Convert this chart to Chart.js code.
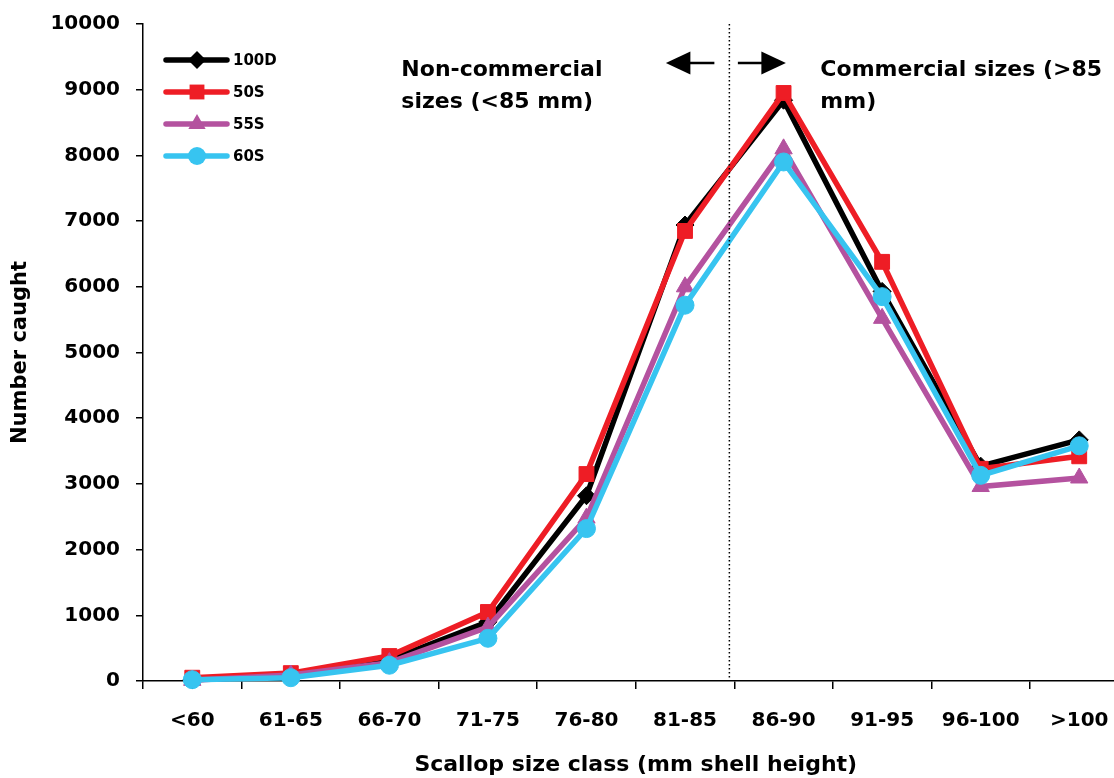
<!DOCTYPE html>
<html>
<head>
<meta charset="utf-8">
<script src="https://cdn.jsdelivr.net/npm/chart.js"></script>
<style>
  html, body { margin: 0; padding: 0; background: #fff; overflow: hidden; }
  #wrap { width: 1114px; height: 778px; overflow: hidden; position: relative; }
  canvas { position: absolute; left: 0; top: 0; }
</style>
</head>
<body>
<div id="wrap"><canvas id="chart" width="1140" height="778"></canvas></div>
<script>
// size classes and catches
const sizeClasses = ['<60', '61-65', '66-70', '71-75', '76-80', '81-85', '86-90', '91-95', '96-100', '>100'];
const catch100D = [20, 80, 320, 900, 2820, 6940, 8840, 5930, 3270, 3670];
const catch50S  = [50, 120, 380, 1050, 3150, 6850, 8950, 6380, 3230, 3420];
const catch55S  = [10, 90, 280, 820, 2480, 6000, 8100, 5520, 2960, 3090];
const catch60S  = [20, 50, 240, 650, 2320, 5720, 7900, 5850, 3130, 3580];
const yTicks = [0, 1000, 2000, 3000, 4000, 5000, 6000, 7000, 8000, 9000, 10000];

const FONT = "'DejaVu Sans', sans-serif";
Chart.defaults.font.family = FONT;
Chart.defaults.font.weight = 'bold';
Chart.defaults.color = '#000';

function series(label, data, color, style, radius, order) {
    return {
        label: label,
        data: data,
        borderColor: color,
        backgroundColor: color,
        borderWidth: 5.5,
        pointStyle: style,
        pointRadius: radius,
        pointBackgroundColor: color,
        pointBorderColor: color,
        pointBorderWidth: 1,
        tension: 0,
        clip: false,
        order: order
    };
}

const datasets = [
    series('100D', catch100D, '#000000', 'rectRot', 9, 3),
    series('50S', catch50S, '#ee1d25', 'rect', 10.5, 2),
    series('55S', catch55S, '#b4529f', 'triangle', 10, 1),
    series('60S', catch60S, '#37c4f0', 'circle', 9, 0)
];

function marker(ctx, style, r, x, y) {
    ctx.beginPath();
    if (style === 'rectRot') {
        ctx.moveTo(x, y - r); ctx.lineTo(x + r, y); ctx.lineTo(x, y + r); ctx.lineTo(x - r, y);
    } else if (style === 'rect') {
        const s = r * Math.SQRT1_2;
        ctx.rect(x - s, y - s, 2 * s, 2 * s);
    } else if (style === 'triangle') {
        ctx.moveTo(x, y - r);
        ctx.lineTo(x + r * 0.866, y + r * 0.5);
        ctx.lineTo(x - r * 0.866, y + r * 0.5);
    } else {
        ctx.arc(x, y, r, 0, Math.PI * 2);
    }
    ctx.closePath();
    ctx.fill();
}

const overlay = {
    id: 'overlay',
    afterDatasetsDraw(chart) {
        const ctx = chart.ctx;
        const a = chart.chartArea;
        const x = chart.scales.x;
        const p5 = x.getPixelForValue(5), p6 = x.getPixelForValue(6);
        const divX = p5 + 0.45 * (p6 - p5);
        ctx.save();

        // dotted divider at 85 mm
        ctx.strokeStyle = '#000';
        ctx.lineWidth = 1.5;
        ctx.setLineDash([1.5, 2.5]);
        ctx.beginPath();
        ctx.moveTo(divX, a.top);
        ctx.lineTo(divX, a.bottom);
        ctx.stroke();
        ctx.setLineDash([]);

        // arrows
        const ay = a.top + 39;
        ctx.fillStyle = '#000';
        ctx.lineWidth = 2.5;
        ctx.beginPath();
        ctx.moveTo(divX - 40, ay); ctx.lineTo(divX - 15, ay);
        ctx.moveTo(divX + 8.5, ay); ctx.lineTo(divX + 33, ay);
        ctx.stroke();
        ctx.beginPath();
        ctx.moveTo(divX - 63.5, ay); ctx.lineTo(divX - 39, ay - 11.5); ctx.lineTo(divX - 39, ay + 11.5);
        ctx.closePath(); ctx.fill();
        ctx.beginPath();
        ctx.moveTo(divX + 56.5, ay); ctx.lineTo(divX + 32, ay - 11.5); ctx.lineTo(divX + 32, ay + 11.5);
        ctx.closePath(); ctx.fill();

        // labels
        ctx.font = 'bold 22px ' + FONT;
        ctx.textAlign = 'left';
        ctx.textBaseline = 'alphabetic';
        ctx.fillText('Non-commercial', divX - 328, a.top + 52);
        ctx.fillText('sizes (<85 mm)', divX - 328, a.top + 84);
        ctx.fillText('Commercial sizes (>85', divX + 91, a.top + 52);
        ctx.fillText('mm)', divX + 91, a.top + 84);

        // legend
        ctx.font = 'bold 15px ' + FONT;
        ctx.textBaseline = 'middle';
        chart.data.datasets.forEach((ds, i) => {
            const ly = a.top + 36 + i * 32;
            ctx.strokeStyle = ds.borderColor;
            ctx.fillStyle = ds.borderColor;
            ctx.lineWidth = 5.5;
            ctx.lineCap = 'round';
            ctx.beginPath();
            ctx.moveTo(a.left + 23, ly);
            ctx.lineTo(a.left + 84, ly);
            ctx.stroke();
            marker(ctx, ds.pointStyle, ds.pointRadius, a.left + 54, ly);
            ctx.fillStyle = '#000';
            ctx.fillText(ds.label, a.left + 90, ly + 1);
        });
        ctx.restore();
    }
};

new Chart(document.getElementById('chart'), {
    type: 'line',
    data: { labels: sizeClasses, datasets: datasets },
    plugins: [overlay],
    options: {
        responsive: false,
        animation: false,
        events: [],
        layout: { padding: { top: 24, right: 8, left: 0, bottom: 0 } },
        plugins: { legend: { display: false }, tooltip: { enabled: false } },
        scales: {
            x: {
                type: 'category',
                offset: true,
                grid: { offset: true, drawOnChartArea: false, drawTicks: true, tickLength: 8, color: '#000', lineWidth: 1.5 },
                border: { color: '#000', width: 1.5 },
                ticks: { font: { size: 20, weight: 'bold' }, padding: 20, maxRotation: 0, autoSkip: false },
                title: { display: true, text: 'Scallop size class (mm shell height)', font: { size: 22, weight: 'bold' }, padding: { top: 8, bottom: 0 } },
                afterFit(scale) { scale.height = 97; scale.paddingLeft = 0; scale.paddingRight = 0; }
            },
            y: {
                min: 0,
                max: 10000,
                afterBuildTicks(scale) { scale.ticks = yTicks.map(v => ({ value: v })); },
                grid: { drawOnChartArea: false, drawTicks: true, tickLength: 7, color: '#000', lineWidth: 1.5 },
                border: { color: '#000', width: 1.5 },
                ticks: { font: { size: 20, weight: 'bold' }, padding: 16, callback: v => String(v) },
                title: { display: true, text: 'Number caught', font: { size: 21, weight: 'bold' }, padding: { top: 8, bottom: 0 } },
                afterFit(scale) { scale.width = 143; scale.paddingTop = 0; scale.paddingBottom = 0; }
            }
        }
    }
});
</script>
</body>
</html>
